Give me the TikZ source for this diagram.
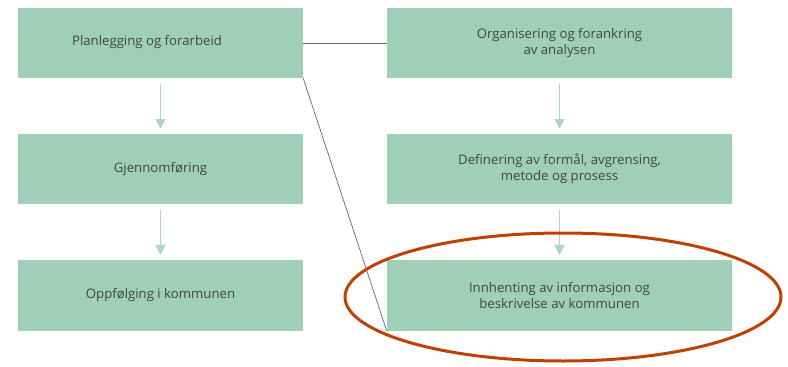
\documentclass[tikz,border=0pt]{standalone}
\usepackage{fontspec}
\setmainfont{Open Sans}
\usetikzlibrary{arrows.meta,shapes.geometric}
\definecolor{boxgreen}{HTML}{9FCFB9}
\definecolor{arrgreen}{HTML}{A9D6C2}
\definecolor{txtgray}{HTML}{454545}
\definecolor{ringred}{HTML}{C04000}
\begin{document}
\begin{tikzpicture}[x=1pt,y=-1pt,
  stepbox/.style={fill=boxgreen,draw=none,inner sep=0pt,text=txtgray,font=\fontsize{13.2}{16}\selectfont,align=center},
  flow/.style={draw=arrgreen,line width=1.6pt,-{Triangle[length=10pt,width=10pt]}},
  link/.style={draw=gray!80!black,line width=0.7pt}]
\useasboundingbox (0,0) rectangle (788,367);
\node[stepbox,minimum width=285pt,minimum height=70pt] (l1) at (160.5,43) {};
\node[text=txtgray,font=\fontsize{13.2}{16}\selectfont] (l1t) at (147,42) {Planlegging og forarbeid};
\node[stepbox,minimum width=285pt,minimum height=70pt] (l2) at (160.5,169) {Gjennomføring};
\node[stepbox,minimum width=285pt,minimum height=71pt] (l3) at (160.5,295.5) {Oppfølging i kommunen};
\node[stepbox,minimum width=345pt,minimum height=70pt] (r1) at (559.5,43) {Organisering og forankring\\av analysen};
\node[stepbox,minimum width=345pt,minimum height=70pt] (r2) at (559.5,169) {Definering av formål, avgrensing,\\metode og prosess};
\node[stepbox,minimum width=345pt,minimum height=71pt] (r3) at (559.5,295.5) {Innhenting av informasjon og\\beskrivelse av kommunen};
\draw[flow] ([yshift=-6pt]l1.south) -- ([yshift=5pt]l2.north);
\draw[flow] ([yshift=-6pt]l2.south) -- ([yshift=5pt]l3.north);
\draw[flow] ([yshift=-6pt]r1.south) -- ([yshift=5pt]r2.north);
\draw[flow] ([yshift=-6pt]r2.south) -- ([yshift=5pt]r3.north);
\draw[link] (l1.east) -- (r1.west);
\draw[link] (l1.south east) -- (r3.south west);
\node[draw=ringred,line width=3pt,ellipse,minimum width=436pt,minimum height=128pt,inner sep=0pt] (ring) at (563,297) {};
\end{tikzpicture}
\end{document}
